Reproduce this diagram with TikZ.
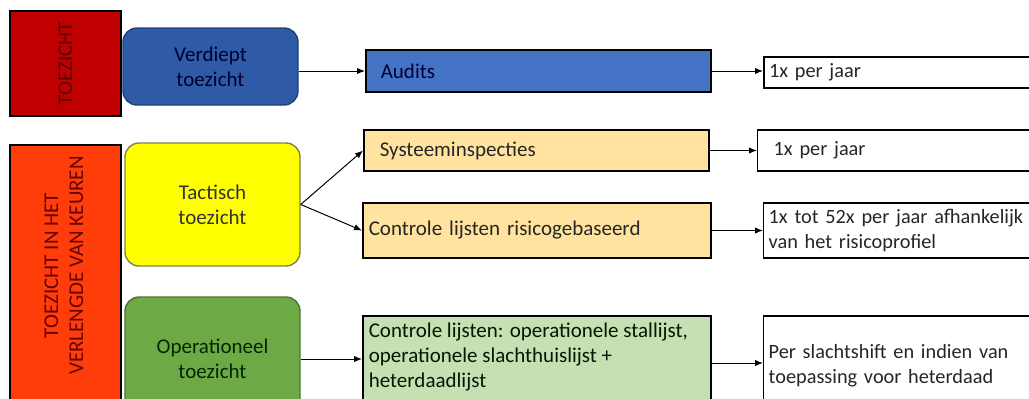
\documentclass[tikz,border=0pt]{standalone}
\usepackage{fontspec}
\setmainfont{Carlito}
\usetikzlibrary{arrows.meta,positioning}

\definecolor{toezred}{HTML}{C00000}
\definecolor{keurenred}{HTML}{FF3D0A}
\definecolor{verdblue}{HTML}{2F5BA6}
\definecolor{auditblue}{HTML}{4472C4}
\definecolor{tactyellow}{HTML}{FFFF00}
\definecolor{opgreen}{HTML}{6DAA45}
\definecolor{lichtoranje}{HTML}{FFE39E}
\definecolor{lichtgroen}{HTML}{C6E0B4}

\begin{document}
\begin{tikzpicture}[x=0.5pt,y=-0.5pt,>={Latex[length=4pt,width=3.2pt]},
  font=\fontsize{10.5}{12.5}\selectfont,
  kolom/.style={draw=black,line width=0.8pt,inner sep=0pt,align=center,text=#1},
  fase/.style={draw=#1,line width=0.7pt,rounded corners=7pt,align=center,
    minimum width=87.5pt},
  actie/.style={draw=black,line width=0.8pt,anchor=west,align=left,inner ysep=0pt},
  freq/.style={draw=black,line width=0.7pt,anchor=west,align=left,text width=150pt,
    inner xsep=2.5pt,inner ysep=0pt,fill=white,text=black!85,
    font=\fontsize{10.15}{12.5}\selectfont},
  pijl/.style={->,line width=0.5pt}]
  \useasboundingbox (0,0) rectangle (1029,398);

  % linker kolom
  \node[kolom=red!35!black,fill=toezred,minimum width=55.5pt,minimum height=52.5pt]
    (toezicht) at (65.5,63.5) {\rotatebox{90}{TOEZICHT}};
  \node[kolom=red!40!black,fill=keurenred,minimum width=55.5pt,minimum height=128.5pt]
    (keuren) at (65.5,273.5)
    {\rotatebox{90}{\hspace*{8pt}\begin{tabular}{@{}c@{}}TOEZICHT IN HET\\VERLENGDE VAN KEUREN\end{tabular}}};

  % soorten toezicht
  \node[fase=verdblue!70!black,fill=verdblue,text=blue!20!black,minimum height=38.5pt]
    (verdiept) at (210.5,66.5) {Verdiept\\toezicht};
  \node[fase=yellow!45!black,fill=tactyellow,text=black!80,minimum height=61.5pt]
    (tactisch) at (212.5,204.5) {Tactisch\\toezicht};
  \node[fase=opgreen!70!black,fill=opgreen,text=green!15!black,minimum height=62pt]
    (operationeel) at (212.5,359) {Operationeel\\toezicht};

  % activiteiten
  \node[actie,fill=auditblue,text=blue!20!black,inner xsep=7.5pt,text width=157.5pt,
    minimum height=21pt] (audits) at (365,71) {Audits};
  \node[actie,fill=lichtoranje,text=black!85,inner xsep=8pt,text width=156.5pt,
    minimum height=20.5pt] (systeem) at (363,150.5) {Systeeminspecties};
  \node[actie,fill=lichtoranje,text=black!85,inner xsep=3pt,text width=168pt,
    minimum height=27.5pt] (risico) at (362,230.5) {Controle lijsten risicogebaseerd};
  \node[actie,fill=lichtgroen,text=green!10!black,inner xsep=3pt,inner ysep=3.5pt]
    (oplijst) at (362,363)
    {\parbox[c][40pt][t]{168pt}{Controle lijsten: operationele stallijst,\\
      operationele slachthuislijst +\\heterdaadlijst}};

  % frequentie
  \node[freq,minimum height=15.5pt,line width=1pt] (freqaudit) at (763,72.5) {1x per jaar};
  \node[freq,minimum height=20.5pt,inner xsep=8pt] (freqsysteem) at (757,150.5) {1x per jaar};
  \node[freq,minimum height=27.5pt] (freqrisico) at (763,230.5)
    {1x tot 52x per jaar afhankelijk\\van het risicoprofiel};
  \node[freq,minimum height=50pt] (freqop) at (763,366)
    {Per slachtshift en indien van\\toepassing voor heterdaad};

  % verbindingen
  \draw[pijl] (verdiept.east |- audits.west) -- (audits.west);
  \draw[pijl] (tactisch.east) -- (systeem.west);
  \draw[pijl] (tactisch.east) -- (risico.west);
  \draw[pijl] (operationeel.east) -- (operationeel.east -| oplijst.west);
  \draw[pijl] (audits.east) -- (audits.east -| freqaudit.west);
  \draw[pijl] (systeem.east) -- (freqsysteem.west);
  \draw[pijl] (risico.east) -- (freqrisico.west);
  \draw[pijl] (oplijst.east) -- (oplijst.east -| freqop.west);
\end{tikzpicture}
\end{document}
